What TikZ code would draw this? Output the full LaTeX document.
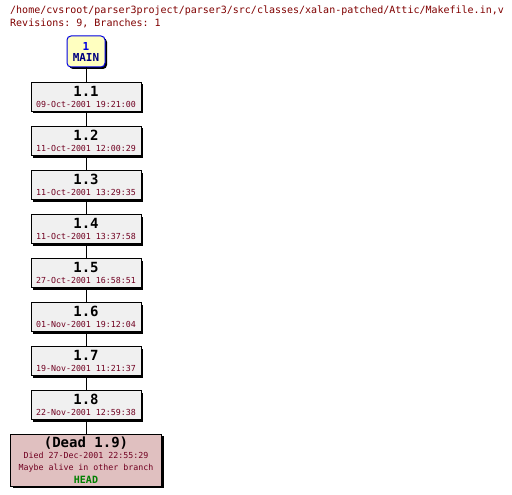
\documentclass[tikz,border=0pt]{standalone}
\usepackage{fontspec}
\setmonofont{DejaVu Sans Mono}
\usetikzlibrary{shadows}
\definecolor{titlered}{HTML}{800000}
\definecolor{datered}{HTML}{700020}
\definecolor{revfill}{HTML}{F0F0F0}
\definecolor{deadfill}{HTML}{E0C0C0}
\definecolor{mainfill}{HTML}{FFFFC0}
\definecolor{mainblue}{HTML}{0000E0}
\definecolor{mainnavy}{HTML}{000080}
\definecolor{headgreen}{HTML}{008000}
\tikzset{
  shad/.style={general shadow={fill=black, shadow xshift=2pt, shadow yshift=-2pt}},
  revbox/.style={draw=black, fill=revfill, line width=1pt, minimum width=110pt, minimum height=29pt, inner sep=0pt, align=center, shad, font=\ttfamily},
  deadbox/.style={draw=black, fill=deadfill, line width=1pt, minimum width=151pt, minimum height=52pt, inner sep=0pt, align=center, shad, font=\ttfamily},
  mainbox/.style={draw=mainblue, fill=mainfill, line width=1pt, rounded corners=4pt, minimum width=38pt, minimum height=31pt, inner sep=0pt, align=center, shad, font=\ttfamily\bfseries},
  conn/.style={draw=black, line width=0.8pt},
}
\newcommand{\revtext}[2]{{\fontsize{14}{12}\selectfont\bfseries #1}\\[-1pt]{\fontsize{8.3}{9}\selectfont\color{datered}#2}}
\begin{document}
\begin{tikzpicture}[x=1pt,y=-1pt]
\useasboundingbox[fill=white] (0,0) rectangle (512,495);
\node[anchor=north west, inner sep=0pt, align=left, text=titlered, font=\ttfamily\fontsize{10}{12.5}\selectfont] (title) at (10,6)
  {/home/cvsroot/parser3project/parser3/src/classes/xalan-patched/Attic/Makefile.in,v\\Revisions: 9, Branches: 1};
\node[mainbox] (main) at (86,51.5) {{\fontsize{11}{11}\selectfont\color{mainblue}1}\\[-1pt]{\fontsize{11}{11}\selectfont\color{mainnavy}MAIN}};
\node[revbox] (r1) at (86,97) {\revtext{1.1}{09-Oct-2001 19:21:00}};
\node[revbox] (r2) at (86,141) {\revtext{1.2}{11-Oct-2001 12:00:29}};
\node[revbox] (r3) at (86,185) {\revtext{1.3}{11-Oct-2001 13:29:35}};
\node[revbox] (r4) at (86,229) {\revtext{1.4}{11-Oct-2001 13:37:58}};
\node[revbox] (r5) at (86,273) {\revtext{1.5}{27-Oct-2001 16:58:51}};
\node[revbox] (r6) at (86,317) {\revtext{1.6}{01-Nov-2001 19:12:04}};
\node[revbox] (r7) at (86,361) {\revtext{1.7}{19-Nov-2001 11:21:37}};
\node[revbox] (r8) at (86,405) {\revtext{1.8}{22-Nov-2001 12:59:38}};
\node[deadbox] (r9) at (86,460) {{\fontsize{14}{12}\selectfont\bfseries (Dead 1.9)}\\[-1pt]{\fontsize{8.3}{8.5}\selectfont\color{datered}Died 27-Dec-2001 22:55:29}\\{\fontsize{8.3}{8.5}\selectfont\color{datered}Maybe alive in other branch}\\[1pt]{\fontsize{10}{10}\selectfont\bfseries\color{headgreen}HEAD}};
\draw[conn] (main) -- (r1);
\draw[conn] (r1) -- (r2);
\draw[conn] (r2) -- (r3);
\draw[conn] (r3) -- (r4);
\draw[conn] (r4) -- (r5);
\draw[conn] (r5) -- (r6);
\draw[conn] (r6) -- (r7);
\draw[conn] (r7) -- (r8);
\draw[conn] (r8) -- (r9);
\end{tikzpicture}
\end{document}
